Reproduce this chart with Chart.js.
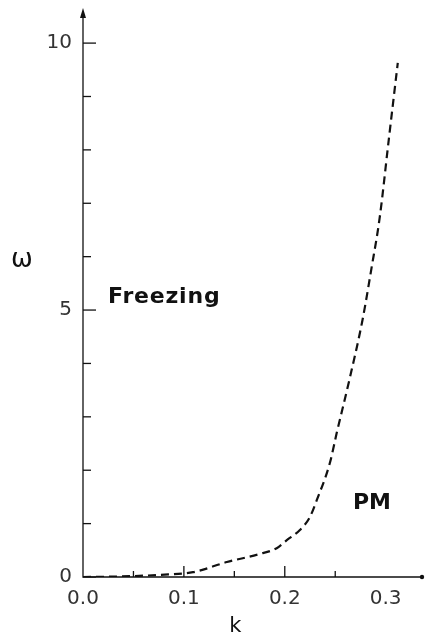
<!DOCTYPE html>
<html>
<head>
<meta charset="utf-8">
<script src="https://cdn.jsdelivr.net/npm/chart.js@4"></script>
<style>
  html, body { margin: 0; padding: 0; background: #fff; }
  #wrap { width: 425px; height: 636px; }
</style>
</head>
<body>
<div id="wrap"><canvas id="phase"></canvas></div>
<script>
// phase boundary
const kVals = [0, 0.037, 0.076, 0.109, 0.1426, 0.175, 0.192, 0.202, 0.215, 0.2248, 0.2317, 0.2446, 0.2515, 0.264, 0.277, 0.286, 0.294, 0.303, 0.312];
const omegaVals = [0, 0.01, 0.04, 0.09, 0.28, 0.43, 0.54, 0.69, 0.88, 1.12, 1.44, 2.13, 2.7, 3.69, 4.81, 5.79, 6.72, 8.18, 9.63];
const yLabels = [0, 5, 10];
const xLabels = [0, 0.1, 0.2, 0.3];

const INK = '#111';
const FONT = '"DejaVu Sans", sans-serif';

const onStep = (v, step) => Math.abs(v / step - Math.round(v / step)) < 1e-6;

// axes, ticks, labels drawn by hand like the old plot
const axesPlugin = {
  id: 'oldAxes',
  afterDraw(chart) {
    const ctx = chart.ctx;
    const xs = chart.scales.x, ys = chart.scales.y;
    const x0 = xs.getPixelForValue(0), y0 = ys.getPixelForValue(0);
    const top = chart.chartArea.top, right = chart.chartArea.right;
    ctx.save();
    ctx.strokeStyle = INK;
    ctx.fillStyle = INK;
    ctx.lineWidth = 1.3;

    // axis lines
    ctx.beginPath();
    ctx.moveTo(x0, top + 4);
    ctx.lineTo(x0, y0);
    ctx.lineTo(right - 2, y0);
    ctx.stroke();
    // arrow on omega axis
    ctx.beginPath();
    ctx.moveTo(x0, top - 2);
    ctx.lineTo(x0 - 3, top + 8);
    ctx.lineTo(x0 + 3, top + 8);
    ctx.closePath();
    ctx.fill();
    // dot at the end of k axis
    ctx.beginPath();
    ctx.arc(right - 1, y0, 2.2, 0, Math.PI * 2);
    ctx.fill();

    // y ticks (inside)
    ys.ticks.forEach(t => {
      if (!onStep(t.value, 1)) return;
      const py = ys.getPixelForValue(t.value);
      const major = onStep(t.value, 5);
      ctx.beginPath();
      ctx.moveTo(x0, py);
      ctx.lineTo(x0 + (major ? 13 : 8), py);
      ctx.stroke();
    });
    // x ticks (inside)
    xs.ticks.forEach(t => {
      if (t.value === 0 || !onStep(t.value, 0.05)) return;
      const px = xs.getPixelForValue(t.value);
      const major = onStep(t.value, 0.1);
      ctx.beginPath();
      ctx.moveTo(px, y0);
      ctx.lineTo(px, y0 - (major ? 11 : 6));
      ctx.stroke();
    });

    // tick labels
    ctx.font = '20px ' + FONT;
    ctx.fillStyle = '#333';
    ctx.textAlign = 'right';
    ctx.textBaseline = 'middle';
    yLabels.forEach(v => ctx.fillText(String(v), x0 - 11, ys.getPixelForValue(v)));
    ctx.textAlign = 'center';
    ctx.textBaseline = 'alphabetic';
    xLabels.forEach(v => ctx.fillText(v.toFixed(1), xs.getPixelForValue(v), y0 + 27));

    // axis titles
    ctx.fillStyle = INK;
    ctx.font = '21px ' + FONT;
    ctx.fillText('k', xs.getPixelForValue(0.151), y0 + 55);
    ctx.font = '26px ' + FONT;
    ctx.textBaseline = 'middle';
    ctx.fillText('ω', 22, 260);

    // region names
    ctx.font = 'bold 22px ' + FONT;
    ctx.textAlign = 'left';
    ctx.textBaseline = 'alphabetic';
    ctx.letterSpacing = '0.8px';
    ctx.fillText('Freezing', 108, 303);
    ctx.letterSpacing = '0px';
    ctx.fillText('PM', 353, 509);
    ctx.restore();
  }
};

new Chart(document.getElementById('phase'), {
  type: 'line',
  data: {
    datasets: [{
      data: kVals.map((k, i) => ({ x: k, y: omegaVals[i] })),
      borderColor: INK,
      borderWidth: 2.2,
      borderDash: [8, 5],
      pointRadius: 0,
      fill: false,
      cubicInterpolationMode: 'monotone'
    }]
  },
  options: {
    responsive: true,
    maintainAspectRatio: false,
    animation: false,
    layout: { padding: { left: 83, right: 2, top: 10, bottom: 59 } },
    plugins: { legend: { display: false }, tooltip: { enabled: false } },
    scales: {
      x: { type: 'linear', display: false, min: 0, max: 0.337, ticks: { stepSize: 0.05 } },
      y: { type: 'linear', display: false, min: 0, max: 10.62, ticks: { stepSize: 1 } }
    }
  },
  plugins: [axesPlugin]
});
</script>
</body>
</html>
